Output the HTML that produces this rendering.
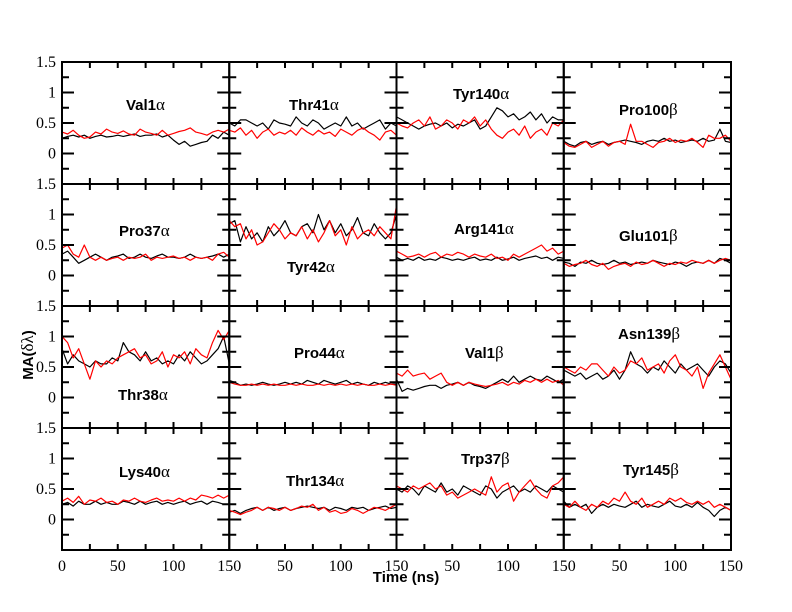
<!DOCTYPE html>
<html><head><meta charset="utf-8"><style>
body{margin:0;background:#fff;}
svg{display:block;}
.tl{font-family:"Liberation Serif",serif;font-size:16px;fill:#000;}
.pl{font-family:"Liberation Sans",sans-serif;font-size:15px;font-weight:bold;fill:#000;}
.gk{font-family:"Liberation Serif",serif;font-weight:normal;font-size:17px;}
</style></head><body>
<svg id="chart" width="792" height="612" viewBox="0 0 792 612"></svg>
<script>
const timePoints = [0,5,10,15,20,25,30,35,40,45,50,55,60,65,70,75,80,85,90,95,100,105,110,115,120,125,130,135,140,145,150];
const panelLabels = [["Val1","α"],["Thr41","α"],["Tyr140","α"],["Pro100","β"],["Pro37","α"],["Tyr42","α"],["Arg141","α"],["Glu101","β"],["Thr38","α"],["Pro44","α"],["Val1","β"],["Asn139","β"],["Lys40","α"],["Thr134","α"],["Trp37","β"],["Tyr145","β"]];
const yTickLabels = ["1.5","1","0.5","0"];
const yTickValues = [1.5,1,0.5,0];
const xTickValues = [0,50,100,150];
const blackSeries = [
[0.25,0.28,0.3,0.27,0.3,0.25,0.28,0.3,0.27,0.28,0.3,0.28,0.3,0.32,0.28,0.3,0.3,0.32,0.27,0.3,0.22,0.15,0.2,0.12,0.15,0.18,0.2,0.3,0.25,0.35,0.3],
[0.5,0.45,0.55,0.55,0.5,0.45,0.5,0.4,0.55,0.5,0.48,0.45,0.6,0.5,0.45,0.55,0.5,0.4,0.45,0.5,0.45,0.6,0.45,0.5,0.4,0.45,0.5,0.55,0.4,0.5,0.45],
[0.6,0.55,0.5,0.45,0.4,0.45,0.48,0.5,0.45,0.5,0.42,0.48,0.45,0.5,0.55,0.4,0.45,0.6,0.75,0.7,0.6,0.65,0.55,0.6,0.68,0.55,0.65,0.5,0.6,0.55,0.55],
[0.2,0.15,0.12,0.18,0.2,0.15,0.18,0.2,0.15,0.18,0.2,0.22,0.2,0.18,0.15,0.2,0.22,0.2,0.25,0.2,0.22,0.18,0.2,0.22,0.2,0.25,0.2,0.22,0.4,0.2,0.18],
[0.35,0.4,0.3,0.2,0.25,0.3,0.35,0.3,0.25,0.3,0.32,0.35,0.28,0.3,0.35,0.3,0.28,0.32,0.35,0.3,0.3,0.28,0.3,0.35,0.3,0.28,0.3,0.32,0.35,0.3,0.35],
[0.85,0.9,0.55,0.8,0.6,0.7,0.55,0.8,0.65,0.75,0.9,0.7,0.65,0.8,0.85,0.7,1.0,0.75,0.9,0.7,0.85,0.65,0.75,0.95,0.7,0.65,0.85,0.7,0.6,0.7,1.0],
[0.3,0.25,0.28,0.25,0.3,0.25,0.27,0.25,0.3,0.28,0.25,0.27,0.25,0.28,0.3,0.25,0.27,0.25,0.3,0.25,0.27,0.3,0.25,0.28,0.3,0.32,0.28,0.3,0.25,0.3,0.28],
[0.22,0.2,0.15,0.22,0.2,0.25,0.2,0.18,0.2,0.25,0.2,0.22,0.18,0.2,0.22,0.2,0.25,0.22,0.2,0.18,0.22,0.2,0.15,0.2,0.22,0.2,0.25,0.2,0.28,0.25,0.2],
[0.8,0.55,0.7,0.6,0.55,0.5,0.6,0.55,0.55,0.65,0.6,0.9,0.75,0.7,0.6,0.75,0.6,0.65,0.55,0.6,0.55,0.7,0.6,0.75,0.65,0.55,0.6,0.7,0.8,1.0,0.55],
[0.28,0.25,0.2,0.22,0.2,0.22,0.25,0.22,0.2,0.22,0.25,0.22,0.25,0.22,0.28,0.25,0.22,0.28,0.25,0.22,0.25,0.28,0.22,0.25,0.22,0.2,0.25,0.22,0.25,0.22,0.22],
[0.3,0.1,0.15,0.12,0.15,0.18,0.2,0.2,0.15,0.2,0.22,0.25,0.2,0.25,0.2,0.18,0.15,0.2,0.25,0.3,0.25,0.35,0.25,0.3,0.35,0.3,0.28,0.35,0.3,0.25,0.3],
[0.45,0.4,0.35,0.4,0.3,0.35,0.4,0.3,0.35,0.45,0.3,0.45,0.75,0.55,0.5,0.4,0.5,0.45,0.6,0.5,0.4,0.55,0.45,0.5,0.55,0.45,0.35,0.5,0.6,0.55,0.4],
[0.25,0.28,0.22,0.3,0.25,0.25,0.3,0.25,0.28,0.25,0.25,0.3,0.28,0.25,0.3,0.25,0.28,0.3,0.25,0.28,0.25,0.28,0.3,0.25,0.28,0.3,0.25,0.3,0.28,0.25,0.25],
[0.12,0.15,0.1,0.15,0.18,0.2,0.15,0.2,0.15,0.18,0.2,0.15,0.18,0.2,0.22,0.2,0.18,0.2,0.15,0.2,0.18,0.15,0.2,0.18,0.2,0.15,0.18,0.2,0.22,0.18,0.2],
[0.5,0.45,0.55,0.5,0.4,0.55,0.5,0.45,0.6,0.45,0.5,0.4,0.55,0.5,0.45,0.4,0.55,0.5,0.35,0.45,0.5,0.55,0.45,0.5,0.45,0.55,0.5,0.45,0.55,0.5,0.45],
[0.3,0.2,0.25,0.2,0.25,0.1,0.2,0.25,0.2,0.25,0.22,0.2,0.25,0.3,0.2,0.25,0.22,0.2,0.25,0.3,0.22,0.2,0.25,0.2,0.28,0.2,0.15,0.05,0.15,0.2,0.15]
];
const redSeries = [
[0.35,0.32,0.38,0.3,0.25,0.27,0.35,0.32,0.4,0.35,0.33,0.37,0.32,0.3,0.4,0.35,0.33,0.3,0.38,0.3,0.33,0.36,0.38,0.42,0.35,0.33,0.3,0.35,0.38,0.35,0.4],
[0.38,0.35,0.42,0.3,0.38,0.25,0.35,0.4,0.3,0.35,0.32,0.38,0.3,0.42,0.35,0.3,0.38,0.32,0.35,0.28,0.4,0.35,0.3,0.38,0.42,0.35,0.3,0.22,0.35,0.38,0.3],
[0.5,0.45,0.42,0.5,0.55,0.45,0.6,0.4,0.45,0.55,0.5,0.4,0.55,0.5,0.6,0.45,0.55,0.4,0.3,0.25,0.35,0.4,0.3,0.45,0.25,0.35,0.4,0.3,0.5,0.45,0.55],
[0.18,0.12,0.1,0.15,0.2,0.1,0.15,0.2,0.12,0.18,0.2,0.15,0.48,0.2,0.2,0.15,0.1,0.18,0.2,0.25,0.18,0.22,0.2,0.25,0.18,0.1,0.3,0.25,0.25,0.3,0.2],
[0.45,0.5,0.35,0.3,0.5,0.3,0.25,0.3,0.25,0.28,0.3,0.25,0.3,0.28,0.3,0.35,0.25,0.3,0.28,0.3,0.32,0.28,0.3,0.25,0.3,0.28,0.3,0.25,0.35,0.38,0.3],
[0.9,0.8,0.85,0.6,0.75,0.5,0.55,0.7,0.85,0.75,0.6,0.7,0.65,0.8,0.6,0.75,0.55,0.7,0.9,0.65,0.75,0.5,0.8,0.6,0.7,0.75,0.65,0.8,0.7,0.6,1.15],
[0.4,0.35,0.3,0.32,0.35,0.3,0.35,0.38,0.3,0.35,0.33,0.38,0.35,0.3,0.35,0.32,0.3,0.35,0.28,0.3,0.25,0.35,0.3,0.35,0.4,0.45,0.5,0.4,0.45,0.35,0.4],
[0.2,0.15,0.18,0.2,0.25,0.18,0.15,0.2,0.1,0.15,0.18,0.2,0.15,0.22,0.18,0.2,0.25,0.2,0.15,0.2,0.18,0.22,0.2,0.25,0.22,0.2,0.25,0.2,0.25,0.28,0.25],
[1.0,0.9,0.65,0.8,0.55,0.3,0.6,0.5,0.6,0.55,0.65,0.7,0.75,0.8,0.65,0.7,0.55,0.6,0.75,0.5,0.7,0.65,0.75,0.55,0.8,0.7,0.65,0.9,1.1,0.95,1.1],
[0.25,0.22,0.2,0.2,0.22,0.2,0.22,0.2,0.22,0.2,0.2,0.22,0.2,0.22,0.2,0.2,0.22,0.2,0.22,0.2,0.22,0.2,0.22,0.2,0.22,0.2,0.2,0.22,0.2,0.22,0.2],
[0.4,0.35,0.45,0.35,0.38,0.4,0.3,0.35,0.4,0.25,0.2,0.25,0.2,0.25,0.22,0.2,0.18,0.2,0.22,0.25,0.2,0.25,0.22,0.28,0.25,0.3,0.25,0.3,0.25,0.28,0.2],
[0.5,0.45,0.4,0.5,0.45,0.55,0.55,0.45,0.35,0.5,0.4,0.45,0.6,0.55,0.65,0.45,0.5,0.55,0.4,0.6,0.7,0.5,0.45,0.35,0.5,0.15,0.4,0.55,0.7,0.5,0.3],
[0.3,0.35,0.28,0.38,0.25,0.32,0.3,0.35,0.28,0.3,0.25,0.32,0.3,0.35,0.3,0.28,0.32,0.35,0.3,0.32,0.3,0.35,0.3,0.35,0.32,0.4,0.38,0.35,0.4,0.35,0.4],
[0.15,0.12,0.08,0.12,0.15,0.2,0.15,0.2,0.18,0.15,0.2,0.15,0.18,0.22,0.2,0.25,0.15,0.2,0.12,0.15,0.1,0.12,0.18,0.15,0.1,0.15,0.2,0.18,0.15,0.2,0.25],
[0.55,0.5,0.45,0.55,0.5,0.55,0.6,0.5,0.55,0.4,0.45,0.35,0.4,0.45,0.5,0.45,0.4,0.7,0.45,0.55,0.6,0.3,0.45,0.55,0.65,0.5,0.4,0.35,0.55,0.6,0.7],
[0.25,0.2,0.3,0.2,0.15,0.25,0.2,0.3,0.25,0.35,0.3,0.45,0.3,0.25,0.35,0.2,0.25,0.3,0.25,0.35,0.3,0.35,0.28,0.25,0.3,0.25,0.3,0.2,0.25,0.2,0.15]
];

const NS = "http://www.w3.org/2000/svg";
const svg = document.getElementById("chart");
const L = 62, T = 62, PW = 167.25, PH = 122;
const labelPos = [[126,110],[289,110],[453,99],[619,115],[119,236],[287,272],[454,234],[619,241],[118,400],[294,358],[465,358],[618,339],[119,477],[286,486],[461,464],[623,475]];
function mk(tag, attrs){const e=document.createElementNS(NS,tag);for(const k in attrs)e.setAttribute(k,attrs[k]);return e;}
function xs(c,t){return L + c*PW + t/150*PW;}
function ys(r,v){return T + r*PH + (1.5 - v)/2*PH;}

for(let i=0;i<16;i++){
  const r=Math.floor(i/4), c=i%4;
  const g=mk("g",{});
  
  
  svg.appendChild(g);
  const x0=L+c*PW, y0=T+r*PH;
  [[blackSeries[i],"#000","black"],[redSeries[i],"#f00","red"]].forEach(([s,col,nm])=>{
    const pts=s.map((v,k)=>xs(c,timePoints[k]).toFixed(1)+","+ys(r,v).toFixed(1)).join(" ");
    const pl=mk("polyline",{points:pts,fill:"none",stroke:col,"stroke-width":1.2,"stroke-linejoin":"round"});
    
    
    g.appendChild(pl);
  });
  let d="";
  for(let t=25;t<150;t+=25){const x=xs(c,t);d+=`M${x},${y0}v6M${x},${y0+PH}v-6`;}
  for(let k=1;k<8;k++){const v=1.5-k*0.25;const y=ys(r,v);const len=(k%2===0)?12:7;d+=`M${x0},${y}h${len}M${x0+PW},${y}h${-len}`;}
  const tk=mk("path",{d:d,stroke:"#000","stroke-width":2,fill:"none"});
  
  
  g.appendChild(tk);
  const fr=mk("rect",{x:x0,y:y0,width:PW,height:PH,fill:"none",stroke:"#000","stroke-width":2});
  
  
  g.appendChild(fr);
  const tx=mk("text",{x:labelPos[i][0],y:labelPos[i][1],class:"pl"});
  
  
  tx.appendChild(document.createTextNode(panelLabels[i][0]));
  const ts=mk("tspan",{class:"gk"});ts.textContent=panelLabels[i][1];tx.appendChild(ts);
  g.appendChild(tx);
}
for(let r=0;r<4;r++){
  yTickValues.forEach((v,k)=>{
    const t=mk("text",{x:56,y:ys(r,v)+5,"text-anchor":"end",class:"tl"});
    
    
    t.textContent=yTickLabels[k];svg.appendChild(t);
  });
}
for(let c=0;c<4;c++){
  xTickValues.forEach(v=>{
    if(c>0 && v===0) return;
    const t=mk("text",{x:xs(c,v),y:571,"text-anchor":"middle",class:"tl"});
    
    
    t.textContent=String(v);svg.appendChild(t);
  });
}
const xt=mk("text",{x:406,y:582,"text-anchor":"middle",class:"pl","font-size":"14"});


xt.textContent="Time (ns)";svg.appendChild(xt);
const yt=mk("text",{x:0,y:0,"text-anchor":"middle",class:"pl",transform:"translate(33,355) rotate(-90)","font-size":"14"});


yt.appendChild(document.createTextNode("MA("));
const g1=mk("tspan",{class:"gk","font-size":"15"});g1.textContent="δλ";yt.appendChild(g1);
yt.appendChild(document.createTextNode(")"));
svg.appendChild(yt);
</script>
</body></html>
